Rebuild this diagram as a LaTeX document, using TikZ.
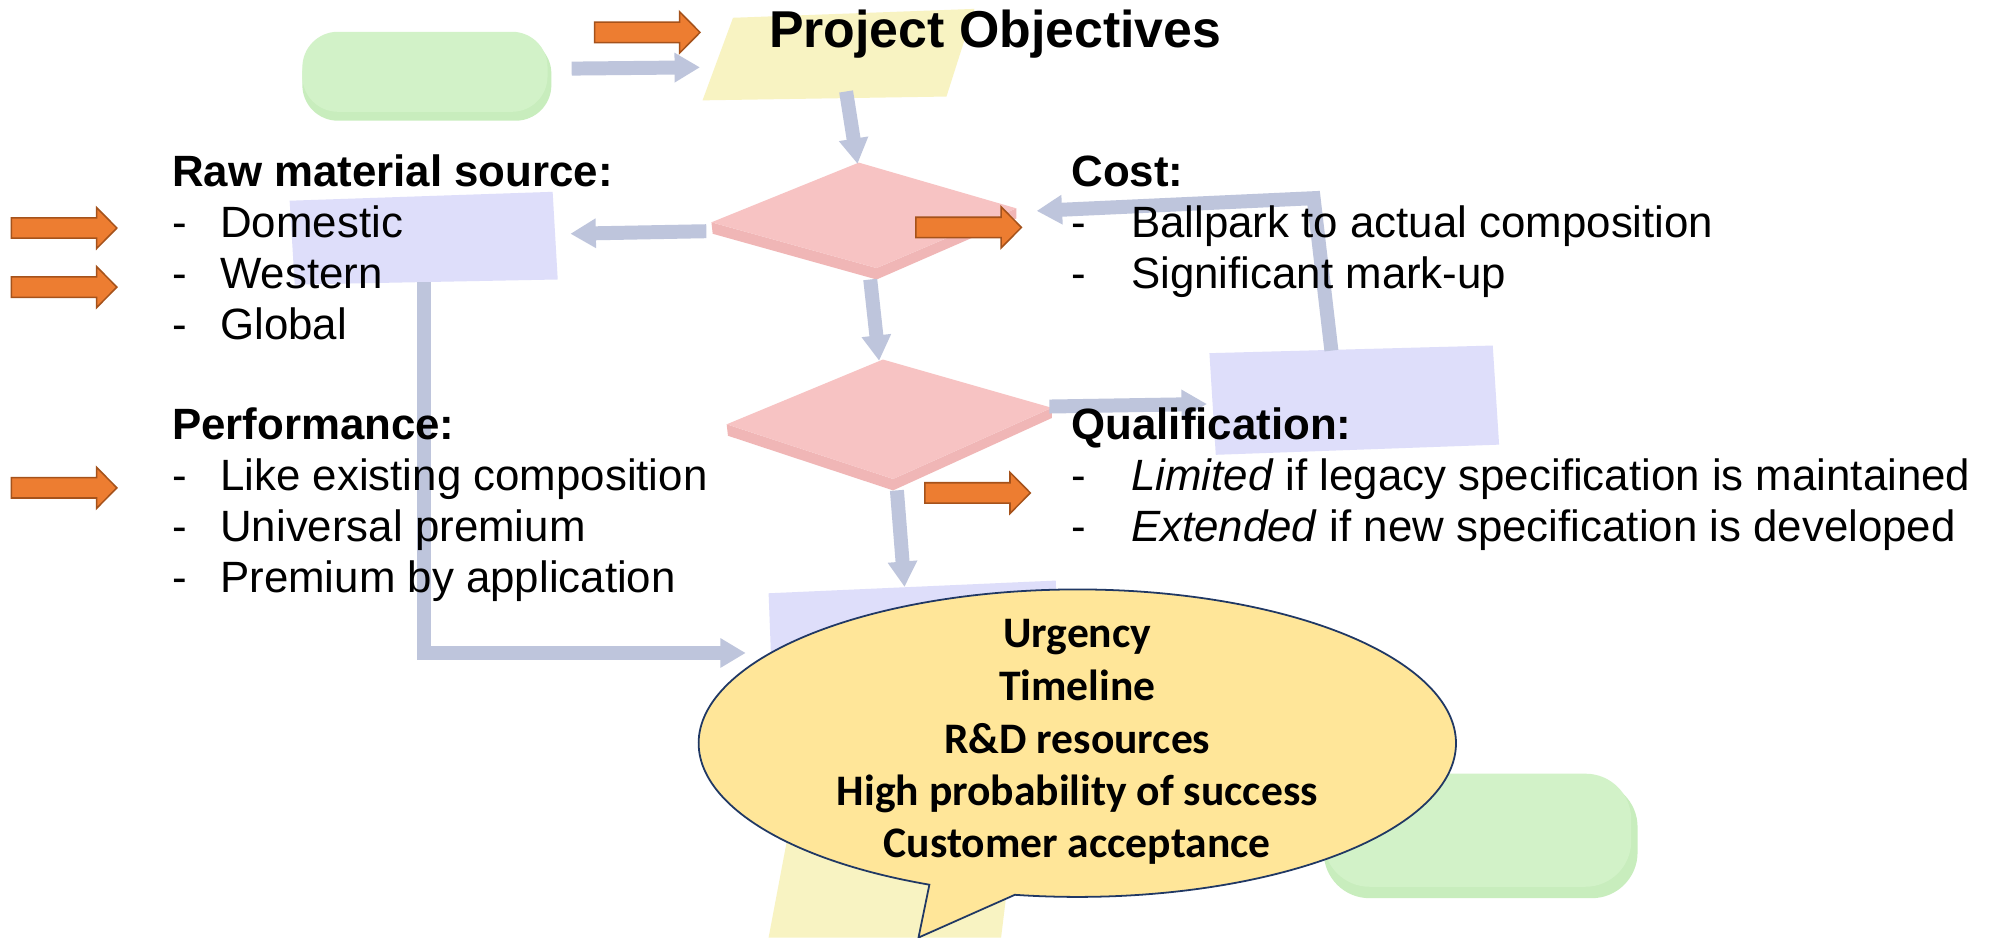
\documentclass[tikz,border=0pt]{standalone}
\usepackage{fontspec}
\setmainfont{Liberation Sans}
\newfontfamily\calib{Carlito}
\usetikzlibrary{arrows.meta}
\definecolor{oran}{HTML}{ED7D31}
\definecolor{oranline}{HTML}{A5521B}
\definecolor{bggreen}{HTML}{D2F2C8}
\definecolor{bggreendk}{HTML}{C8EDBD}
\definecolor{bgyellow}{HTML}{F8F3C2}
\definecolor{bgred}{HTML}{F7C3C3}
\definecolor{bgreddk}{HTML}{F0B6B6}
\definecolor{bgblue}{HTML}{DEDEFA}
\definecolor{bgarrow}{HTML}{BEC5DC}
\definecolor{bubblefill}{HTML}{FFE699}
\definecolor{bubbleline}{HTML}{203864}
\newcommand{\orarrow}[2]{%
  \draw[orarrowstyle] (#1,#2-8) -- ++(67,0) -- ++(0,-8.2) -- ++(16,16.2) -- ++(-16,16.2) -- ++(0,-8.2) -- ++(-67,0) -- cycle;}
\begin{document}
\begin{tikzpicture}[x=0.5pt,y=-0.5pt,
  orarrowstyle/.style={fill=oran,draw=oranline,line width=0.6pt,line join=miter},
  bgarr/.style={draw=bgarrow,line width=5.5pt,-{Triangle[width=11pt,length=10pt]}},
  headtxt/.style={anchor=base west,inner sep=0pt,font=\bfseries\fontsize{17.25}{20}\selectfont},
  itemtxt/.style={anchor=base west,inner sep=0pt,font=\fontsize{17.25}{20}\selectfont},
  bubtxt/.style={anchor=base,inner sep=0pt,font=\calib\bfseries\fontsize{17.15}{20}\selectfont},
  bubble/.style={fill=bubblefill,draw=bubbleline,line width=0.7pt,line join=miter}]
\fill[white] (0,0) rectangle (1568,738);
\useasboundingbox (0,0) rectangle (1568,738);

% ---------- faded background flowchart ----------
\fill[bggreendk,rounded corners=14pt] (238,30) rectangle (434,95);
\fill[bggreen,rounded corners=14pt] (238,25) rectangle (431,88);
\fill[bgyellow] (577,14) -- (767,7) -- (745,76) -- (553,79) -- cycle;
% diamond 1
\fill[bgreddk] (560,175) -- (690,211) -- (800,164) -- (800,172) -- (690,220) -- (561,184) -- cycle;
\fill[bgred] (560,175) -- (676,128) -- (800,164) -- (690,211) -- cycle;
% diamond 2
\fill[bgreddk] (572,334) -- (703,377) -- (828,321) -- (828,329) -- (703,386) -- (573,343) -- cycle;
\fill[bgred] (572,334) -- (695,283) -- (828,321) -- (703,377) -- cycle;
% boxes
\fill[bgblue] (228,158) -- (435,151) -- (439,220) -- (232,224) -- cycle;
\fill[bgblue] (952,278) -- (1175,272) -- (1180,350) -- (957,358) -- cycle;
\fill[bgblue] (605,467) -- (831,457) -- (835,540) -- (608,545) -- cycle;
\fill[bgyellow] (622,648) -- (800,640) -- (788,738) -- (605,738) -- cycle;
\fill[bggreendk,rounded corners=18pt] (1042,615) rectangle (1289,707);
\fill[bggreen,rounded corners=18pt] (1042,609) rectangle (1284,698);
% connectors
\coordinate (g1) at (450,54);  \coordinate (y1) at (551,53);
\draw[bgarr] (g1) -- (y1);
\coordinate (y1b) at (666,72); \coordinate (d1t) at (675,129);
\draw[bgarr] (y1b) -- (d1t);
\coordinate (d1l) at (556,182); \coordinate (b1r) at (449,184);
\draw[bgarr] (d1l) -- (b1r);
\coordinate (d1b) at (685,220); \coordinate (d2t) at (692,284);
\draw[bgarr] (d1b) -- (d2t);
\coordinate (d2b) at (706,386); \coordinate (b3t) at (712,462);
\draw[bgarr] (d2b) -- (b3t);
\coordinate (d2r) at (826,320); \coordinate (b2l) at (950,318);
\draw[bgarr] (d2r) -- (b2l);
\coordinate (b2t) at (1048,276); \coordinate (k2) at (1034,156); \coordinate (d1r) at (816,166);
\draw[bgarr] (b2t) -- (k2) -- (d1r);
\coordinate (b1b) at (334,222); \coordinate (k1) at (334,514); \coordinate (b3l) at (587,514);
\draw[bgarr] (b1b) -- (k1) -- (b3l);

% ---------- orange arrows ----------
\orarrow{468}{25.5}
\orarrow{9}{179.5}
\orarrow{9}{226}
\orarrow{9}{384}
\orarrow{721}{179}
\orarrow{728}{388}

% ---------- texts ----------
\node[anchor=base west,inner sep=0pt,font=\bfseries\fontsize{20.4}{24}\selectfont] (title) at (605,37) {Project Objectives};

\node[headtxt] (raw) at (135,147) {Raw material source:};
\node[itemtxt] (rawd1) at (135,187) {-};
\node[itemtxt] (raw1) at (173,187) {Domestic};
\node[itemtxt] (rawd2) at (135,227) {-};
\node[itemtxt] (raw2) at (173,227) {Western};
\node[itemtxt] (rawd3) at (135,267) {-};
\node[itemtxt] (raw3) at (173,267) {Global};

\node[headtxt] (perf) at (135,346) {Performance:};
\node[itemtxt] (perfd1) at (135,386) {-};
\node[itemtxt] (perf1) at (173,386) {Like existing composition};
\node[itemtxt] (perfd2) at (135,426) {-};
\node[itemtxt] (perf2) at (173,426) {Universal premium};
\node[itemtxt] (perfd3) at (135,466) {-};
\node[itemtxt] (perf3) at (173,466) {Premium by application};

\node[headtxt] (cost) at (843,147) {Cost:};
\node[itemtxt] (costd1) at (843,187) {-};
\node[itemtxt] (cost1) at (890,187) {Ballpark to actual composition};
\node[itemtxt] (costd2) at (843,227) {-};
\node[itemtxt] (cost2) at (890,227) {Significant mark-up};

\node[headtxt] (qual) at (843,346) {Qualification:};
\node[itemtxt] (quald1) at (843,386) {-};
\node[itemtxt] (qual1) at (890,386) {\textit{Limited} if legacy specification is maintained};
\node[itemtxt] (quald2) at (843,426) {-};
\node[itemtxt] (qual2) at (890,426) {\textit{Extended} if new specification is developed};

% ---------- speech bubble ----------
\coordinate (bc) at (848,585);
\coordinate (tip) at (723,738);
\draw[bubble] ([shift={(113:298 and 121)}]bc) arc[start angle=113,end angle=459.5,x radius=298,y radius=121] -- (tip) -- cycle;
\node[bubtxt] (u1) at (848,510) {Urgency};
\node[bubtxt] (u2) at (848,551) {Timeline};
\node[bubtxt] (u3) at (848,593) {R\&D resources};
\node[bubtxt] (u4) at (848,634) {High probability of success};
\node[bubtxt] (u5) at (848,675) {Customer acceptance};
\end{tikzpicture}
\end{document}
